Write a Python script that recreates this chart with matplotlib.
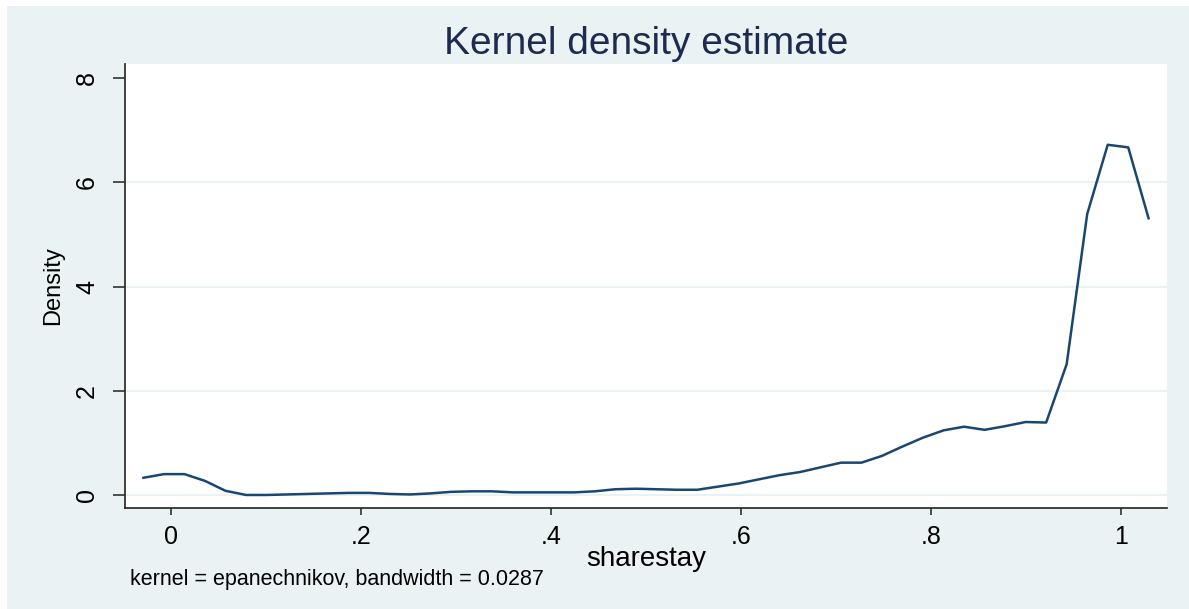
import matplotlib
matplotlib.use("Agg")
import matplotlib.pyplot as plt
from matplotlib.patches import Rectangle

# evaluation points of the kernel density
sharestay = [-0.0290, -0.0074, 0.0142, 0.0358, 0.0574, 0.0790, 0.1006, 0.1222,
             0.1437, 0.1653, 0.1869, 0.2085, 0.2301, 0.2517, 0.2733, 0.2949,
             0.3165, 0.3381, 0.3597, 0.3813, 0.4029, 0.4245, 0.4461, 0.4677,
             0.4893, 0.5109, 0.5325, 0.5541, 0.5757, 0.5973, 0.6189, 0.6405,
             0.6621, 0.6837, 0.7053, 0.7268, 0.7484, 0.7700, 0.7916, 0.8132,
             0.8348, 0.8564, 0.8780, 0.8996, 0.9212, 0.9428, 0.9644, 0.9860,
             1.0076, 1.0290]
density = [0.33, 0.40, 0.40, 0.27, 0.08, 0.00, 0.00, 0.01,
           0.02, 0.03, 0.04, 0.04, 0.02, 0.01, 0.03, 0.06,
           0.07, 0.07, 0.05, 0.05, 0.05, 0.05, 0.07, 0.11,
           0.12, 0.11, 0.10, 0.10, 0.16, 0.22, 0.30, 0.38,
           0.44, 0.53, 0.62, 0.62, 0.75, 0.93, 1.10, 1.24,
           1.31, 1.25, 1.32, 1.40, 1.39, 2.51, 5.39, 6.72,
           6.67, 5.31]

xticks = [0, 0.2, 0.4, 0.6, 0.8, 1.0]
xtick_labels = ['0', '.2', '.4', '.6', '.8', '1']
yticks = [0, 2, 4, 6, 8]
ygrid = [0, 2, 4, 6]

plt.rcParams['font.family'] = ['Liberation Sans', 'DejaVu Sans']

bg = '#EAF2F3'
navy = '#1A476F'

fig = plt.figure(figsize=(11.89, 6.09), dpi=100, facecolor='white')
# Stata-style outer region (slightly inset from the top/left image edge)
fig.patches.append(Rectangle((7 / 1189, 0), 1 - 7 / 1189, 1 - 6 / 609,
                             transform=fig.transFigure, facecolor=bg,
                             edgecolor='none', zorder=-10))

ax = fig.add_axes([125 / 1189, 1 - 508 / 609, (1167 - 125) / 1189, (508 - 64) / 609])
ax.set_facecolor('white')

for g in ygrid:
    ax.axhline(g, color=bg, linewidth=1.5, zorder=1)

ax.plot(sharestay, density, color=navy, linewidth=1.8, zorder=3)

ax.set_xlim(-0.0484, 1.0484)
ax.set_ylim(-0.25, 8.27)

ax.set_xticks(xticks)
ax.set_xticklabels(xtick_labels, fontsize=18)
ax.set_yticks(yticks)
ax.set_yticklabels([str(t) for t in yticks], fontsize=18, rotation=90, va='center')

ax.tick_params(axis='x', length=5, width=1.2, color='#333333', pad=7)
ax.tick_params(axis='y', length=8.6, width=1.2, color='#333333', pad=10)

ax.spines['top'].set_visible(False)
ax.spines['right'].set_visible(False)
ax.spines['left'].set_color('#222222')
ax.spines['bottom'].set_color('#222222')
ax.spines['left'].set_linewidth(1.2)
ax.spines['bottom'].set_linewidth(1.2)

ax.set_xlabel('sharestay', fontsize=20, labelpad=-2)
ax.set_ylabel('Density', fontsize=17, labelpad=8)

fig.text(646 / 1189, 1 - 44 / 609, 'Kernel density estimate', fontsize=28,
         color='#1E2B4F', ha='center', va='center')
fig.text(130 / 1189, 1 - 580 / 609, 'kernel = epanechnikov, bandwidth = 0.0287',
         fontsize=15.5, ha='left', va='center')

fig.savefig('out.png', dpi=100, facecolor=fig.get_facecolor())
